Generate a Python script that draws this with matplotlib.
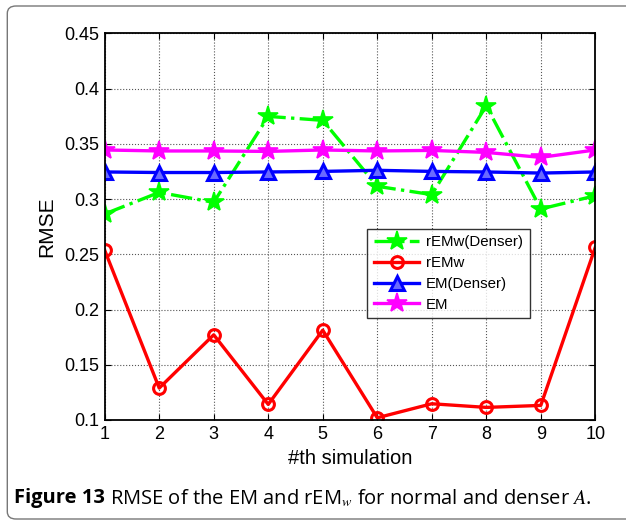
import matplotlib
matplotlib.use("Agg")
import matplotlib.pyplot as plt
from matplotlib.patches import FancyBboxPatch
import numpy as np

# RMSE per simulation run
runs = [1, 2, 3, 4, 5, 6, 7, 8, 9, 10]
remw_denser = [0.2865, 0.306, 0.297, 0.3748, 0.3712, 0.3115, 0.304, 0.3844, 0.291, 0.303]
remw = [0.2536, 0.1289, 0.1771, 0.1141, 0.1813, 0.102, 0.1147, 0.1114, 0.1132, 0.2563]
em_denser = [0.3245, 0.324, 0.324, 0.3245, 0.325, 0.326, 0.325, 0.3245, 0.3235, 0.3245]
em = [0.3444, 0.3435, 0.3435, 0.3431, 0.3444, 0.3435, 0.3440, 0.3422, 0.3377, 0.3444]
yticks = [0.1, 0.15, 0.2, 0.25, 0.3, 0.35, 0.4, 0.45]

plt.rcParams["font.family"] = ["Liberation Sans", "DejaVu Sans"]
plt.rcParams["mathtext.fontset"] = "stix"

W, H = 626, 523
fig = plt.figure(figsize=(W / 100, H / 100), dpi=100)
ax = fig.add_axes([104.7 / W, 1 - 420 / H, 490.6 / W, 386.7 / H])

ax.plot(runs, remw_denser, color="#00ff00", linestyle="-.", linewidth=2.4,
        marker="*", markersize=15, markeredgewidth=1.2, label="rEMw(Denser)")
ax.plot(runs, remw, color="#ff0000", linestyle="-", linewidth=2.4,
        marker="o", markersize=8.5, markerfacecolor="none", markeredgewidth=2.2,
        label="rEMw")
ax.plot(runs, em_denser, color="#0000ff", linestyle="-", linewidth=2.4,
        marker="^", markersize=9.5, markerfacecolor="#6a6aff", markeredgewidth=2.2,
        label="EM(Denser)")
ax.plot(runs, em, color="#ff00ff", linestyle="-", linewidth=2.4,
        marker="*", markersize=15, markeredgewidth=1.2, label="EM")

ax.set_xlim(1, 10)
ax.set_ylim(0.1, 0.45)
ax.set_xticks(runs)
ax.set_yticks(yticks)
ax.set_yticklabels([f"{v:g}" for v in yticks])
ax.tick_params(direction="in", top=True, right=True, labelsize=13, length=4,
               pad=4)
ax.grid(True, linestyle=":", color="#555555", linewidth=0.8)
for s in ax.spines.values():
    s.set_linewidth(1.3)

ax.set_xlabel("#th simulation", fontsize=14.5, labelpad=5)
ax.set_ylabel("RMSE", fontsize=15, labelpad=6)

leg = ax.legend(loc="upper left", bbox_to_anchor=(367.3 / W, 1 - 228.7 / H),
                bbox_transform=fig.transFigure, fontsize=10.8, frameon=True,
                fancybox=False, edgecolor="black", handlelength=3.0,
                borderaxespad=0, labelspacing=0.45, borderpad=0.45,
                handletextpad=0.45)
leg.get_frame().set_linewidth(1.0)

# rounded frame round the figure, running off the right and bottom edges
frame = FancyBboxPatch((7.3 / W, 1 - 519 / H), 650 / W, 513 / H,
                       boxstyle="round,pad=0,rounding_size=0.014",
                       transform=fig.transFigure, facecolor="none",
                       edgecolor="#777777", linewidth=1.0)
fig.patches.append(frame)

# caption: bold lead followed by regular text
cap_y = 1 - 498 / H
t1 = fig.text(14 / W, cap_y, "Figure 13", fontsize=14.5, fontweight="bold",
              family=["Open Sans", "DejaVu Sans"], va="center")
fig.canvas.draw()
bb = t1.get_window_extent(fig.canvas.get_renderer())
fig.text((bb.x1 + 5) / W, cap_y,
         r"RMSE of the EM and rEM$_w$ for normal and denser $A$.",
         fontsize=14.5, family=["Open Sans", "DejaVu Sans"], va="center")

fig.savefig("out.png", dpi=100)
